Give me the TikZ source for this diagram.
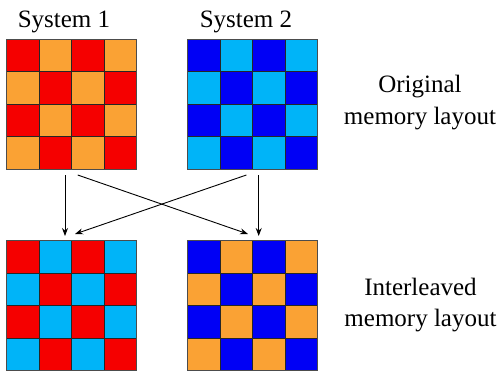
\documentclass[tikz,border=0pt]{standalone}
\usepackage{fontspec}
\setmainfont{Liberation Serif}
\usetikzlibrary{arrows.meta,calc}
\definecolor{cred}{RGB}{245,0,0}
\definecolor{corange}{RGB}{250,162,52}
\definecolor{cblue}{RGB}{0,0,245}
\definecolor{clight}{RGB}{0,180,248}
\newcommand\mygrid[5]{%
  \foreach \i in {0,...,3}{\foreach \j in {0,...,3}{%
    \pgfmathtruncatemacro\p{mod(\i+\j,2)}%
    \ifnum\p=0 \def\cc{#4}\else\def\cc{#5}\fi
    \draw[cell,fill=\cc] ({#2+\i*32.5},{#3+\j*32.5}) rectangle ++(32.5,32.5);
  }}%
  \node[gridbox] (#1) at ({#2+65},{#3+65}) {};%
}
\begin{document}
\begin{tikzpicture}[x=1pt,y=-1pt,
  cell/.style={draw=black!85,line width=0.8pt},
  gridbox/.style={draw=black!70,line width=0.8pt,minimum size=130pt,inner sep=0pt,outer sep=0pt},
  lbl/.style={font=\fontsize{25}{31.3}\selectfont,inner sep=0pt},
  arr/.style={line width=0.9pt,-{Stealth[length=8pt,width=6pt]}}]
\useasboundingbox (0,0) rectangle (502,370);
\mygrid{g1}{6.5}{39.3}{cred}{corange}
\mygrid{g2}{187.7}{39.3}{cblue}{clight}
\mygrid{g3}{6.5}{240.8}{cred}{clight}
\mygrid{g4}{187.7}{240.8}{cblue}{corange}
\node[lbl,anchor=base] (s1) at (64,27) {System 1};
\node[lbl,anchor=base] (s2) at (246,27) {System 2};
\node[lbl,anchor=base,align=center] (orig) at (420,124) {Original\\memory layout};
\node[lbl,anchor=base,align=center] (inter) at (420.5,326.5) {Interleaved\\memory layout};
\draw[arr] ($(g1.south)+(-6.5,5.7)$) -- ($(g3.north)+(-6.5,-4.8)$);
\draw[arr] ($(g1.south)+(6.2,5.7)$) -- ($(g4.north)+(-4.7,-6.8)$);
\draw[arr] ($(g2.south)+(-6.3,5.7)$) -- ($(g3.north)+(3.5,-6.8)$);
\draw[arr] ($(g2.south)+(6,5.7)$) -- ($(g4.north)+(6,-4.8)$);
\end{tikzpicture}
\end{document}
